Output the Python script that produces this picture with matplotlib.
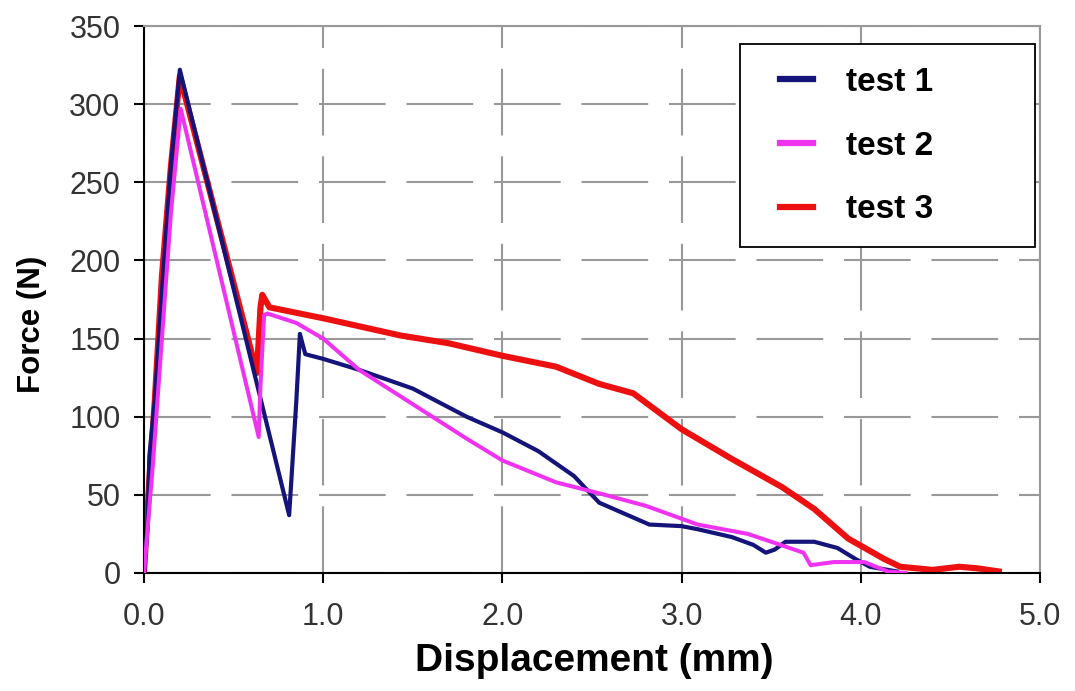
import matplotlib
matplotlib.use("Agg")
import matplotlib.pyplot as plt
from matplotlib.patches import Rectangle

plt.rcParams["font.family"] = ["Liberation Sans", "DejaVu Sans"]

# values
test1_x = [0.0, 0.02, 0.03, 0.06, 0.10, 0.15, 0.20, 0.81, 0.85, 0.87, 0.90, 1.0, 1.2, 1.5, 1.8, 2.0,
           2.2, 2.4, 2.54, 2.7, 2.82, 3.0, 3.09, 3.28, 3.40, 3.47, 3.52, 3.58, 3.74, 3.87, 3.97, 4.05, 4.2]
test1_y = [0, 30, 75, 110, 180, 260, 322, 37, 110, 153, 140, 137, 130, 118, 100, 90,
           78, 62, 45, 37, 31, 30, 28, 23, 18, 13, 15, 20, 20, 16, 9, 4, 1]

test2_x = [0.0, 0.05, 0.10, 0.15, 0.205, 0.64, 0.65, 0.67, 0.69, 0.85, 1.0, 1.2, 1.5, 1.8, 2.0,
           2.3, 2.54, 2.8, 3.09, 3.37, 3.5, 3.68, 3.72, 3.85, 4.02, 4.15, 4.25]
test2_y = [0, 70, 150, 230, 297, 87, 120, 165, 166, 160, 150, 130, 108, 86, 72,
           58, 51, 43, 31, 25, 20, 13, 5, 7, 7, 1, 0]

test3_x = [0.0, 0.03, 0.06, 0.10, 0.15, 0.20, 0.63, 0.65, 0.66, 0.70, 1.0, 1.43, 1.7, 2.0, 2.3,
           2.54, 2.73, 3.0, 3.28, 3.56, 3.74, 3.93, 4.13, 4.22, 4.4, 4.55, 4.65, 4.77]
test3_y = [0, 60, 110, 190, 260, 318, 128, 170, 178, 170, 163, 152, 147, 139, 132,
           121, 115, 92, 73, 55, 41, 22, 9, 4, 2, 4, 3, 1]

x_ticks = [0.0, 1.0, 2.0, 3.0, 4.0, 5.0]
y_ticks = [0, 50, 100, 150, 200, 250, 300, 350]

fig = plt.figure(figsize=(10.75, 6.91), dpi=100)
ax = fig.add_axes([144 / 1075, 1 - 573 / 691, 896 / 1075, 547 / 691])

ax.plot(test1_x, test1_y, color="#14147a", lw=3.0, label="test 1", zorder=3)
ax.plot(test2_x, test2_y, color="#f033f0", lw=2.9, label="test 2", zorder=4)
ax.plot(test3_x, test3_y, color="#ec1010", lw=4.4, label="test 3", zorder=2)

ax.set_xlim(0, 5)
ax.set_ylim(0, 350)
ax.set_xticks(x_ticks)
ax.set_xticklabels([f"{v:.1f}" for v in x_ticks])
ax.set_yticks(y_ticks)
ax.tick_params(labelsize=22, colors="black", labelcolor="#333333", direction="out",
               length=7, width=1.5)
ax.tick_params(axis="y", pad=10)
ax.tick_params(axis="x", pad=14)

ax.grid(True, color="#999999", lw=1.5, linestyle=(0, (32, 10)))
ax.set_axisbelow(True)

for s in ["left", "bottom"]:
    ax.spines[s].set_color("black")
    ax.spines[s].set_linewidth(1.5)
for s in ["top", "right"]:
    ax.spines[s].set_color("#999999")
    ax.spines[s].set_linewidth(1.5)

ax.set_xlabel("Displacement (mm)", fontsize=28, fontweight="bold")
ax.xaxis.set_label_coords(0.502, -0.128)
ax.set_ylabel("Force (N)", fontsize=22.5, fontweight="bold")
ax.yaxis.set_label_coords(-0.108, 0.455)

# legend frame drawn separately so the wide right margin can be kept
ax.add_patch(Rectangle((0.665, 0.596), 0.329, 0.371, transform=ax.transAxes,
                       facecolor="white", edgecolor="black", lw=1.3, zorder=5))
leg = ax.legend(loc="upper left", bbox_to_anchor=(0.710, 0.925), frameon=False,
                prop={"weight": "bold", "size": 24}, handlelength=1.0,
                handletextpad=0.97, labelspacing=0.98, borderpad=0.0, borderaxespad=0.0)
leg.set_zorder(6)
for line in leg.get_lines():
    line.set_linewidth(4.5)

fig.savefig("out.png", dpi=100)
